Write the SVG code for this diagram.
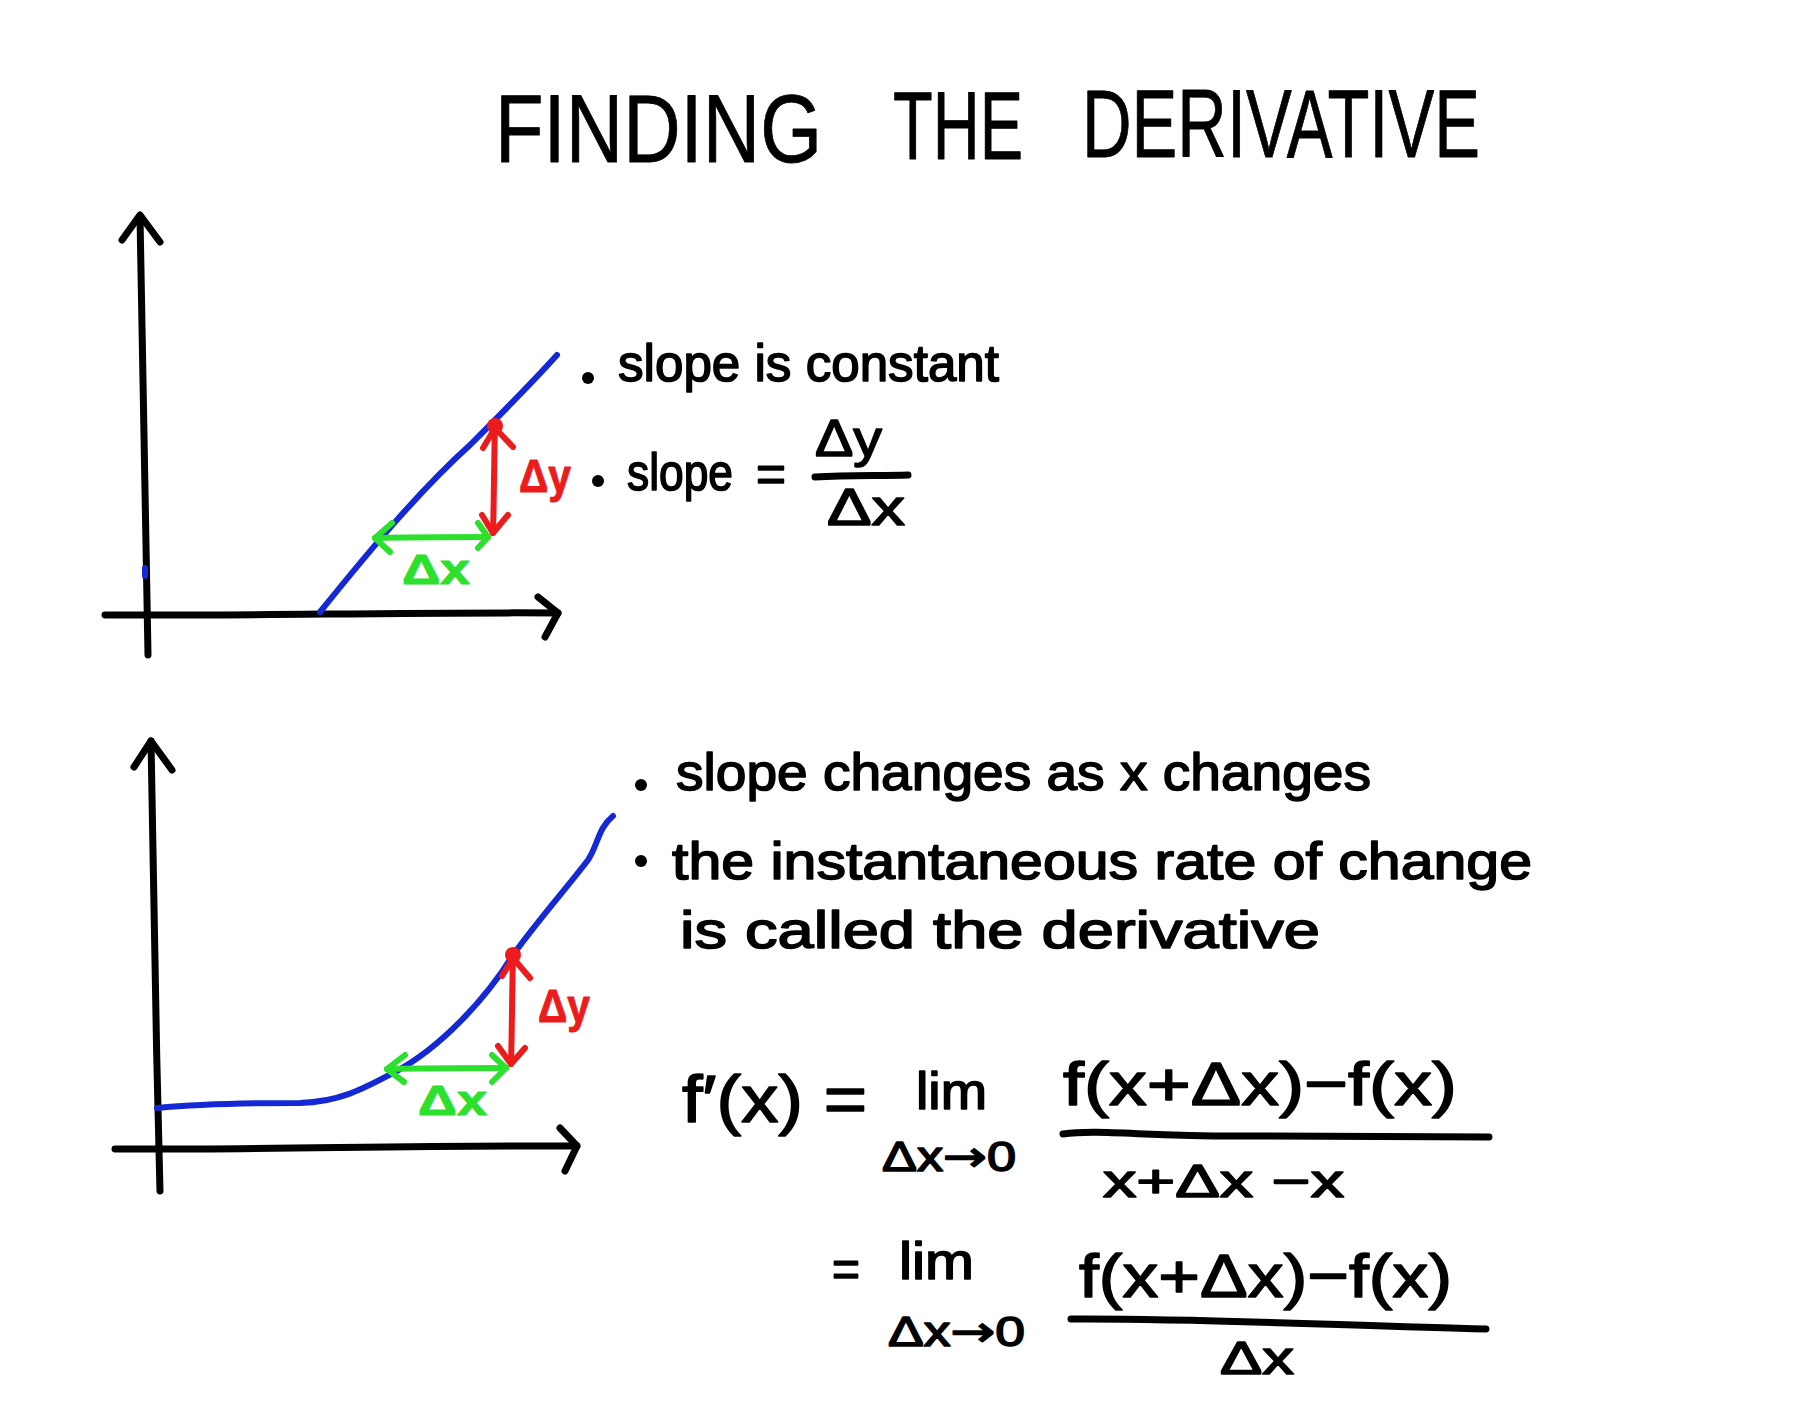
<svg xmlns="http://www.w3.org/2000/svg" width="1796" height="1426" viewBox="0 0 1796 1426">
<style>
.ink{fill:none;stroke:#000;stroke-width:7;stroke-linecap:round;stroke-linejoin:round}
.blue{fill:none;stroke:#1428d6;stroke-width:6;stroke-linecap:round;stroke-linejoin:round}
.red{fill:none;stroke:#ec1c1c;stroke-width:6;stroke-linecap:round;stroke-linejoin:round}
.green{fill:none;stroke:#2ee02e;stroke-width:6;stroke-linecap:round;stroke-linejoin:round}
text{font-family:"Liberation Sans","DejaVu Sans",sans-serif;fill:#000;stroke:#000;stroke-width:1.6;stroke-linejoin:round}
.t{font-size:52px}
.ttl{font-size:96px;stroke-width:0.8}
.rl{fill:#ec1c1c;stroke:#ec1c1c;font-size:46px;font-weight:bold;stroke-width:1}
.gl{fill:#2ee02e;stroke:#2ee02e;font-size:42px;font-weight:bold;stroke-width:1}
.ar{font-family:"DejaVu Sans",sans-serif}
</style>
<rect width="1796" height="1426" fill="#fff"/>

<g id="title">
<text class="ttl" x="495" y="162" textLength="327" lengthAdjust="spacingAndGlyphs">FINDING</text>
<text class="ttl" x="893" y="159" textLength="130" lengthAdjust="spacingAndGlyphs">THE</text>
<text class="ttl" x="1082" y="157" textLength="398" lengthAdjust="spacingAndGlyphs">DERIVATIVE</text>
</g>

<g id="graph-top">
<path class="ink" d="M140,216 C142,330 145,480 148,655"/>
<path class="ink" d="M122,240 L140,215 L160,242"/>
<path class="ink" d="M105,615 C250,616 400,612 558,613"/>
<path class="ink" d="M538,597 L558,613 L545,637"/>
<path class="blue" d="M320,612 C370,550 420,490 470,445 C500,415 530,385 557,355"/>
<path class="blue" d="M145,568 L145,576"/>
<circle cx="495" cy="426" r="8" fill="#ec1c1c"/>
<path class="red" d="M495,428 C494,460 494,500 493,533"/>
<path class="red" d="M483,448 L495,428 L513,447"/>
<path class="red" d="M482,515 L493,533 L508,515"/>
<path class="green" d="M375,538 C410,537 450,537 488,537"/>
<path class="green" d="M392,523 L375,538 L390,552"/>
<path class="green" d="M478,523 L488,537 L478,548"/>
<text class="gl" x="402" y="584" textLength="68" lengthAdjust="spacingAndGlyphs">Δx</text>
<text class="rl" x="519" y="492" textLength="52" lengthAdjust="spacingAndGlyphs">Δy</text>
</g>

<g id="text-top">
<circle cx="588" cy="378" r="6" fill="#000"/>
<text class="t" x="618" y="381" textLength="381" lengthAdjust="spacingAndGlyphs">slope is constant</text>
<circle cx="598" cy="481" r="6" fill="#000"/>
<text class="t" x="627" y="490" textLength="106" lengthAdjust="spacingAndGlyphs">slope</text>
<text class="t" x="756" y="492" textLength="30" lengthAdjust="spacingAndGlyphs">=</text>
<text class="t" x="815" y="456" textLength="67" lengthAdjust="spacingAndGlyphs">Δy</text>
<path class="ink" d="M815,477 C850,475 880,476 908,475"/>
<text class="t" x="827" y="525" textLength="78" lengthAdjust="spacingAndGlyphs">Δx</text>
</g>

<g id="graph-bottom">
<path class="ink" d="M151,741 C153,880 156,1040 160,1191"/>
<path class="ink" d="M134,767 L151,741 L172,770"/>
<path class="ink" d="M115,1149 C260,1150 420,1145 577,1146"/>
<path class="ink" d="M560,1128 L577,1146 L565,1171"/>
<path class="blue" d="M157,1108 C200,1104 250,1103 300,1103 C340,1102 365,1088 395,1072 C440,1048 485,1000 513,955 C540,918 565,890 588,860 C598,845 598,828 613,816"/>
<circle cx="513" cy="955" r="8" fill="#ec1c1c"/>
<path class="red" d="M513,958 C512,990 512,1030 511,1064"/>
<path class="red" d="M502,976 L513,958 L530,978"/>
<path class="red" d="M498,1046 L511,1064 L525,1048"/>
<path class="green" d="M387,1069 C425,1068 465,1068 506,1068"/>
<path class="green" d="M405,1055 L387,1069 L404,1082"/>
<path class="green" d="M492,1055 L506,1068 L492,1082"/>
<text class="gl" x="418" y="1115" textLength="69" lengthAdjust="spacingAndGlyphs">Δx</text>
<text class="rl" x="538" y="1022" textLength="52" lengthAdjust="spacingAndGlyphs">Δy</text>
</g>

<g id="text-bottom">
<circle cx="641" cy="785" r="6" fill="#000"/>
<text class="t" x="676" y="790" textLength="695" lengthAdjust="spacingAndGlyphs">slope changes as x changes</text>
<circle cx="641" cy="861" r="6" fill="#000"/>
<text class="t" x="672" y="879" textLength="860" lengthAdjust="spacingAndGlyphs">the instantaneous rate of change</text>
<text class="t" x="680" y="948" textLength="640" lengthAdjust="spacingAndGlyphs">is called the derivative</text>
</g>

<g id="formula">
<text x="682" y="1122" font-size="66" textLength="185" lengthAdjust="spacingAndGlyphs">f′(x) =</text>
<text x="916" y="1109" font-size="52" textLength="71" lengthAdjust="spacingAndGlyphs">lim</text>
<text x="882" y="1171" font-size="42" textLength="134" lengthAdjust="spacingAndGlyphs">Δx<tspan class="ar">→</tspan>0</text>
<text x="1063" y="1105" font-size="62" textLength="394" lengthAdjust="spacingAndGlyphs">f(x+Δx)−f(x)</text>
<path class="ink" d="M1063,1134 C1100,1129 1150,1137 1250,1136 C1350,1136 1420,1137 1489,1137"/>
<text x="1103" y="1197" font-size="46" textLength="241" lengthAdjust="spacingAndGlyphs">x+Δx −x</text>
<text x="832" y="1287" font-size="52" textLength="28" lengthAdjust="spacingAndGlyphs">=</text>
<text x="899" y="1279" font-size="52" textLength="75" lengthAdjust="spacingAndGlyphs">lim</text>
<text x="888" y="1346" font-size="42" textLength="137" lengthAdjust="spacingAndGlyphs">Δx<tspan class="ar">→</tspan>0</text>
<text x="1079" y="1297" font-size="62" textLength="373" lengthAdjust="spacingAndGlyphs">f(x+Δx)−f(x)</text>
<path class="ink" d="M1071,1319 C1200,1318 1350,1326 1486,1329"/>
<text x="1220" y="1374" font-size="46" textLength="74" lengthAdjust="spacingAndGlyphs">Δx</text>
</g>
</svg>
